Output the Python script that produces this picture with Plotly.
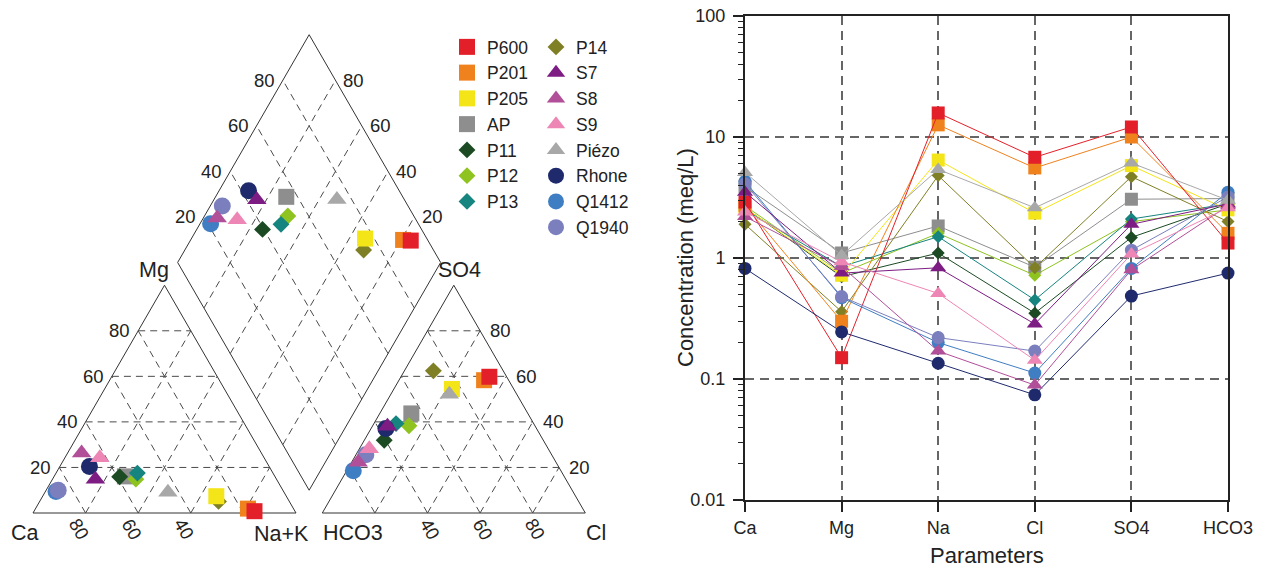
import numpy as np
import plotly.graph_objects as go

# ---- sample data (meq/L) ----
samples = ["P600", "P201", "P205", "AP", "P11", "P12", "P13", "P14",
           "S7", "S8", "S9", "Piézo", "Rhone", "Q1412", "Q1940"]
ca   = [2.9, 2.7, 2.6, 3.9, 2.6, 2.7, 2.5, 1.9, 3.5, 2.2, 2.4, 5.1, 0.82, 4.3, 4.1]
mg   = [0.15, 0.30, 0.72, 1.1, 0.70, 0.75, 0.85, 0.36, 0.75, 0.85, 0.93, 1.05, 0.245, 0.47, 0.48]
na   = [15.8, 12.6, 6.45, 1.84, 1.1, 1.6, 1.5, 4.8, 0.83, 0.17, 0.51, 5.4, 0.135, 0.20, 0.22]
cl   = [6.8, 5.55, 2.35, 0.84, 0.35, 0.72, 0.45, 0.83, 0.285, 0.089, 0.143, 2.6, 0.074, 0.112, 0.17]
so4  = [12.1, 10.0, 5.8, 3.06, 1.48, 2.0, 2.1, 4.7, 1.9, 0.80, 1.08, 6.1, 0.485, 0.82, 1.16]
hco3 = [1.33, 1.6, 2.5, 3.1, 2.8, 2.5, 2.8, 2.0, 2.8, 2.7, 2.6, 3.0, 0.75, 3.5, 3.2]

parameters = ["Ca", "Mg", "Na", "Cl", "SO4", "HCO3"]
y_ticks = [0.01, 0.1, 1, 10, 100]
y_ticktext = ["0.01", "0.1", "1", "10", "100"]
piper_ticks = [20, 40, 60, 80]

colors = ["#e3202a", "#f0821e", "#f4e519", "#8e8e8e", "#1b4a23", "#8fc31f", "#16847f",
          "#7f7f25", "#7d1c83", "#b14f99", "#ee86b5", "#a8a8a8", "#1f2a6d", "#3f7ec2", "#7b7fbe"]
symbols = ["square"] * 4 + ["diamond"] * 4 + ["triangle-up"] * 4 + ["circle"] * 3
draw_order = ["AP", "P11", "P12", "P13", "P14", "P205", "P201", "P600",
              "Rhone", "Q1412", "Q1940", "S7", "S8", "S9", "Piézo"]

FONT = "Liberation Sans, Arial, sans-serif"
INK = "#222222"

# ---- Piper geometry (unit side) ----
H = np.sqrt(3) / 2
GAP = 0.1
B = np.array([1 + GAP / 2, GAP * H])          # bottom vertex of the diamond
U = np.array([0.5, H])
V = np.array([-0.5, H])


def cation_xy(c, m, n):
    t = c + m + n
    return n / t + 0.5 * m / t, H * m / t


def anion_xy(h, s, c):
    t = h + s + c
    return 1 + GAP + c / t + 0.5 * s / t, H * s / t


def diamond_xy(pc, pa):
    xc, yc = pc
    xa, ya = pa
    t = (xa - xc) + (ya - yc) / (2 * H)
    return xc + 0.5 * t, yc + H * t


def size_for(sym, big):
    table = {"square": (16, 13), "diamond": (13, 10), "triangle-up": (17, 14), "circle": (17, 13)}
    return table[sym][0 if big else 1]


fig = go.Figure()

for name in draw_order:
    i = samples.index(name)
    pc = cation_xy(ca[i], mg[i], na[i])
    pa = anion_xy(hco3[i], so4[i], cl[i])
    pd = diamond_xy(pc, pa)
    fig.add_trace(go.Scatter(
        x=[pc[0], pa[0], pd[0]], y=[pc[1], pa[1], pd[1]],
        mode="markers", name=name, legendgroup=name,
        legend="legend" if i < 7 else "legend2", legendrank=i,
        marker=dict(symbol=symbols[i], size=size_for(symbols[i], True), color=colors[i]),
        xaxis="x", yaxis="y", cliponaxis=False, hoverinfo="name"))
    fig.add_trace(go.Scatter(
        x=list(range(len(parameters))),
        y=[ca[i], mg[i], na[i], cl[i], so4[i], hco3[i]],
        mode="lines+markers", name=name, legendgroup=name, showlegend=False,
        line=dict(color=colors[i], width=1),
        marker=dict(symbol=symbols[i], size=size_for(symbols[i], False), color=colors[i]),
        xaxis="x2", yaxis="y2", cliponaxis=False))

# ---- Piper frame and grid ----
shapes = []


def seg(p, q, dashed):
    shapes.append(dict(type="line", xref="x", yref="y", x0=p[0], y0=p[1], x1=q[0], y1=q[1],
                       line=dict(color="#4a4a4a" if dashed else "#333333", width=1,
                                 dash="7px,5px" if dashed else "solid"),
                       layer="below"))


for ox in (0.0, 1 + GAP):
    A0 = np.array([ox, 0.0])
    A1 = np.array([ox + 1, 0.0])
    A2 = np.array([ox + 0.5, H])
    seg(A0, A1, False)
    seg(A1, A2, False)
    seg(A2, A0, False)
    for k in piper_ticks:
        f = k / 100
        seg(A0 + f * (A2 - A0), A1 + f * (A2 - A1), True)
        seg(A0 + f * (A1 - A0), A0 + f * (A1 - A0) + (1 - f) * (A2 - A0), True)
        seg(A1 + f * (A0 - A1), A1 + f * (A0 - A1) + (1 - f) * (A2 - A1), True)

L_, R_, T_ = B + V, B + U, B + U + V
for a, b in ((B, R_), (R_, T_), (T_, L_), (L_, B)):
    seg(a, b, False)
for k in piper_ticks:
    f = k / 100
    seg(B + f * U, B + f * U + V, True)
    seg(B + f * V, B + f * V + U, True)

# ---- labels ----
ann = []


def label(x, y, text, size, xanchor="center", yanchor="middle", xs=0, ys=0, angle=0):
    ann.append(dict(x=x, y=y, xref="x", yref="y", text=text, showarrow=False,
                    xanchor=xanchor, yanchor=yanchor, xshift=xs, yshift=ys, textangle=angle,
                    font=dict(family=FONT, size=size, color=INK)))


TS = 18.5
for k in piper_ticks:
    f = k / 100
    label(f / 2, f * H, str(k), TS, xanchor="right", xs=-6)                     # Mg
    label(1 + GAP + 1 - f / 2, f * H, str(k), TS, xanchor="left", xs=8)         # SO4
    p = B + V + f * U
    label(p[0], p[1], str(k), TS, xanchor="right", xs=-6)
    p = B + U + f * V
    label(p[0], p[1], str(k), TS, xanchor="left", xs=6)
for k in (80, 60, 40):
    label(1 - k / 100, 0, str(k), TS, xs=-6, ys=-16, angle=60)                   # Ca
for k in (40, 60, 80):
    label(1 + GAP + k / 100, 0, str(k), TS, xs=3, ys=-16, angle=60)             # Cl

VS = 21.5
label(0, 0, "Ca", VS, xs=-8, ys=-20)
label(1, 0, "Na+K", VS, xs=-15, ys=-21)
label(0.5, H, "Mg", VS, xs=-11, ys=15)
label(1 + GAP, 0, "HCO3", VS, xs=31, ys=-20)
label(2 + GAP, 0, "Cl", VS, xs=11, ys=-20)
label(1.5 + GAP, H, "SO4", VS, xs=6, ys=15)

# axis titles of the concentration panel
Y2_DOM = [72 / 572, 556 / 572]
ann.append(dict(x=685 / 1273, y=(Y2_DOM[0] + Y2_DOM[1]) / 2, xref="paper", yref="paper",
                text="Concentration (meq/L)", textangle=-90, showarrow=False,
                xanchor="center", yanchor="middle", font=dict(family=FONT, size=22, color=INK)))
ann.append(dict(x=(745 + 1228) / 2 / 1273, y=1 - 555 / 572, xref="paper", yref="paper",
                text="Parameters", showarrow=False, xanchor="center", yanchor="middle",
                font=dict(family=FONT, size=22, color=INK)))

PX = 263.0
x0 = -33 / PX
y0 = -59 / PX

legend_common = dict(font=dict(family=FONT, size=17.5, color=INK), bgcolor="rgba(0,0,0,0)",
                     itemsizing="trace", yanchor="top", xanchor="left", tracegroupgap=0)

fig.update_layout(
    width=1273, height=572,
    margin=dict(l=0, r=0, t=0, b=0),
    paper_bgcolor="white", plot_bgcolor="white",
    shapes=shapes, annotations=ann,
    legend=dict(x=447 / 1273, y=1 - 29 / 572, **legend_common),
    legend2=dict(x=536 / 1273, y=1 - 29 / 572, **legend_common),
    xaxis=dict(domain=[0, 640 / 1273], range=[x0, x0 + 640 / PX], visible=False, fixedrange=True),
    yaxis=dict(domain=[0, 1], range=[y0, y0 + 572 / PX], visible=False, fixedrange=True),
    xaxis2=dict(
        domain=[745 / 1273, 1228 / 1273], range=[0, 5], anchor="y2",
        tickmode="array", tickvals=list(range(len(parameters))), ticktext=parameters,
        ticks="outside", ticklen=10, tickwidth=1.5, tickcolor=INK,
        tickfont=dict(family=FONT, size=18, color=INK),
        showline=True, linewidth=2, linecolor=INK, mirror=True,
        showgrid=True, gridcolor="#666666", griddash="9px,6px", gridwidth=1.5,
        zeroline=False, automargin=False),
    yaxis2=dict(
        domain=Y2_DOM, type="log", range=[-2, 2], anchor="x2",
        tickmode="array", tickvals=y_ticks, ticktext=y_ticktext,
        ticks="outside", ticklen=10, tickwidth=1.5, tickcolor=INK, ticklabelstandoff=4,
        tickfont=dict(family=FONT, size=18, color=INK),
        minor=dict(ticks="outside", ticklen=5, tickwidth=1, tickcolor=INK, dtick="D1", showgrid=False),
        showline=True, linewidth=2, linecolor=INK, mirror=True,
        showgrid=True, gridcolor="#666666", griddash="9px,6px", gridwidth=1.5,
        zeroline=False, automargin=False),
)

fig.write_html("out.html")
